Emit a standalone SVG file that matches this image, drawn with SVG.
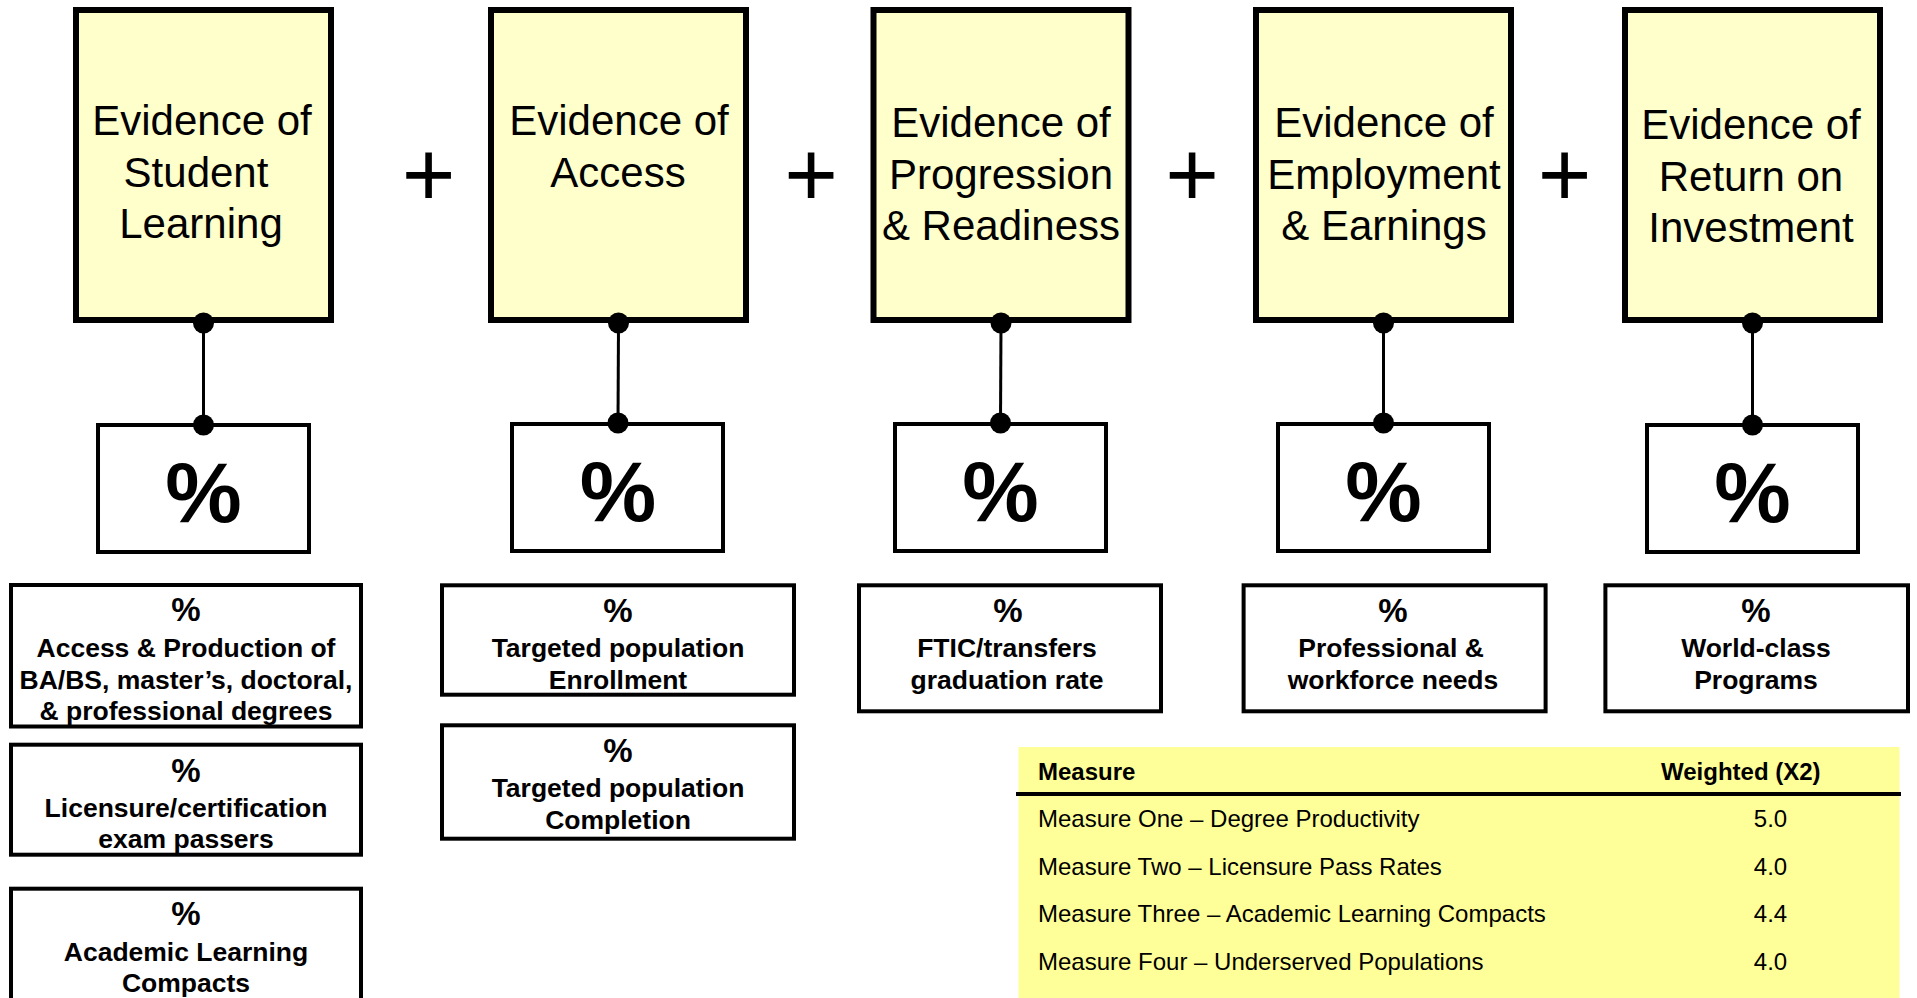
<svg xmlns="http://www.w3.org/2000/svg" width="1917" height="998" viewBox="0 0 1917 998">
<style>
  text { font-family: "Liberation Sans", Arial, sans-serif; fill: #000; }
  .main { fill: #FFFFCC; stroke: #000; stroke-width: 6; }
  .pct { fill: #FFFFFF; stroke: #000; stroke-width: 4; }
  .sub { fill: #FFFFFF; stroke: #000; stroke-width: 4; }
  .t42 { font-size: 42px; text-anchor: middle; }
  .big { font-size: 86px; font-weight: bold; text-anchor: middle; }
  .plus { font-size: 92px; text-anchor: middle; }
  .sp { font-size: 33px; font-weight: bold; text-anchor: middle; }
  .st { font-size: 26.5px; font-weight: bold; text-anchor: middle; }
  .th { font-size: 24px; font-weight: bold; }
  .td { font-size: 24px; }
  .num { font-size: 24px; text-anchor: middle; }
  .conn { stroke: #000; stroke-width: 3; fill: none; }
</style>
<rect width="1917" height="998" fill="#FFFFFF"/>

<g id="node-learning">
  <rect class="main" x="76" y="10" width="255" height="310"/>
  <text class="t42" x="202" y="134.5">Evidence of</text>
  <text class="t42" x="196" y="186.5">Student</text>
  <text class="t42" x="201" y="237.5">Learning</text>
</g>
<g id="node-access">
  <rect class="main" x="491" y="10" width="255" height="310"/>
  <text class="t42" x="619" y="134.5">Evidence of</text>
  <text class="t42" x="618" y="186.5">Access</text>
</g>
<g id="node-progression">
  <rect class="main" x="873.5" y="10" width="255" height="310"/>
  <text class="t42" x="1001" y="136.5">Evidence of</text>
  <text class="t42" x="1001" y="188.5">Progression</text>
  <text class="t42" x="1001" y="239.5">&amp; Readiness</text>
</g>
<g id="node-employment">
  <rect class="main" x="1256" y="10" width="255" height="310"/>
  <text class="t42" x="1384" y="136.5">Evidence of</text>
  <text class="t42" x="1384" y="188.5">Employment</text>
  <text class="t42" x="1384" y="239.5">&amp; Earnings</text>
</g>
<g id="node-roi">
  <rect class="main" x="1625" y="10" width="255" height="310"/>
  <text class="t42" x="1751" y="138.5">Evidence of</text>
  <text class="t42" x="1751" y="190.5">Return on</text>
  <text class="t42" x="1751" y="241.5">Investment</text>
</g>

<g id="plus-signs">
  <text class="plus" x="428.5" y="206">+</text>
  <text class="plus" x="811" y="206">+</text>
  <text class="plus" x="1192" y="206">+</text>
  <text class="plus" x="1564.5" y="206">+</text>
</g>

<g id="pct-learning">
  <rect class="pct" x="98" y="425" width="211" height="127"/>
  <text class="big" x="203.5" y="522">%</text>
</g>
<g id="pct-access">
  <rect class="pct" x="512" y="424" width="211" height="127"/>
  <text class="big" x="618" y="521">%</text>
</g>
<g id="pct-progression">
  <rect class="pct" x="895" y="424" width="211" height="127"/>
  <text class="big" x="1000.5" y="521">%</text>
</g>
<g id="pct-employment">
  <rect class="pct" x="1278" y="424" width="211" height="127"/>
  <text class="big" x="1383.5" y="521">%</text>
</g>
<g id="pct-roi">
  <rect class="pct" x="1647" y="425" width="211" height="127"/>
  <text class="big" x="1752.5" y="522">%</text>
</g>

<g id="connectors">
  <line class="conn" x1="203.5" y1="323" x2="203.5" y2="425"/>
  <circle cx="203.5" cy="323" r="10.5"/>
  <circle cx="203.5" cy="425" r="10.5"/>
  <line class="conn" x1="618.5" y1="323" x2="618" y2="423"/>
  <circle cx="618.5" cy="323" r="10.5"/>
  <circle cx="618" cy="423" r="10.5"/>
  <line class="conn" x1="1001" y1="323" x2="1000.5" y2="423"/>
  <circle cx="1001" cy="323" r="10.5"/>
  <circle cx="1000.5" cy="423" r="10.5"/>
  <line class="conn" x1="1383.5" y1="323" x2="1383.5" y2="423"/>
  <circle cx="1383.5" cy="323" r="10.5"/>
  <circle cx="1383.5" cy="423" r="10.5"/>
  <line class="conn" x1="1752.5" y1="323" x2="1752.5" y2="425"/>
  <circle cx="1752.5" cy="323" r="10.5"/>
  <circle cx="1752.5" cy="425" r="10.5"/>
</g>

<g id="sub-degrees">
  <rect class="sub" x="11" y="585" width="350" height="141.5"/>
  <text class="sp" x="186" y="621">%</text>
  <text class="st" x="186" y="657">Access &amp; Production of</text>
  <text class="st" x="186" y="688.5">BA/BS, master’s, doctoral,</text>
  <text class="st" x="186" y="720">&amp; professional degrees</text>
</g>
<g id="sub-licensure">
  <rect class="sub" x="11" y="744.7" width="350" height="110"/>
  <text class="sp" x="186" y="781.5">%</text>
  <text class="st" x="186" y="817">Licensure/certification</text>
  <text class="st" x="186" y="848">exam passers</text>
</g>
<g id="sub-compacts">
  <rect class="sub" x="11" y="888.7" width="350" height="125"/>
  <text class="sp" x="186" y="925">%</text>
  <text class="st" x="186" y="960.5">Academic Learning</text>
  <text class="st" x="186" y="991.5">Compacts</text>
</g>
<g id="sub-enrollment">
  <rect class="sub" x="442" y="585.3" width="352" height="109.4"/>
  <text class="sp" x="618" y="621.5">%</text>
  <text class="st" x="618" y="657">Targeted population</text>
  <text class="st" x="618" y="688.5">Enrollment</text>
</g>
<g id="sub-completion">
  <rect class="sub" x="442" y="725.3" width="352" height="113.4"/>
  <text class="sp" x="618" y="761.5">%</text>
  <text class="st" x="618" y="797">Targeted population</text>
  <text class="st" x="618" y="828.5">Completion</text>
</g>
<g id="sub-graduation">
  <rect class="sub" x="859" y="585.3" width="302" height="126"/>
  <text class="sp" x="1008" y="621.5">%</text>
  <text class="st" x="1007" y="657">FTIC/transfers</text>
  <text class="st" x="1007" y="688.5">graduation rate</text>
</g>
<g id="sub-workforce">
  <rect class="sub" x="1243.6" y="585.3" width="302" height="126"/>
  <text class="sp" x="1393" y="621.5">%</text>
  <text class="st" x="1391" y="657">Professional &amp;</text>
  <text class="st" x="1393" y="688.5">workforce needs</text>
</g>
<g id="sub-worldclass">
  <rect class="sub" x="1605.4" y="585.3" width="302.6" height="126"/>
  <text class="sp" x="1756" y="621.5">%</text>
  <text class="st" x="1756" y="657">World-class</text>
  <text class="st" x="1756" y="688.5">Programs</text>
</g>

<g id="measure-table">
  <rect x="1018.5" y="747" width="881" height="260" fill="#FFFF99"/>
  <line x1="1016" y1="794" x2="1901" y2="794" stroke="#000" stroke-width="4"/>
  <text class="th" x="1038" y="780">Measure</text>
  <text class="th" x="1661" y="780">Weighted (X2)</text>
  <text class="td" x="1038" y="827">Measure One – Degree Productivity</text>
  <text class="num" x="1770.5" y="827">5.0</text>
  <text class="td" x="1038" y="874.5">Measure Two – Licensure Pass Rates</text>
  <text class="num" x="1770.5" y="874.5">4.0</text>
  <text class="td" x="1038" y="922">Measure Three – Academic Learning Compacts</text>
  <text class="num" x="1770.5" y="922">4.4</text>
  <text class="td" x="1038" y="969.5">Measure Four – Underserved Populations</text>
  <text class="num" x="1770.5" y="969.5">4.0</text>
</g>
</svg>
